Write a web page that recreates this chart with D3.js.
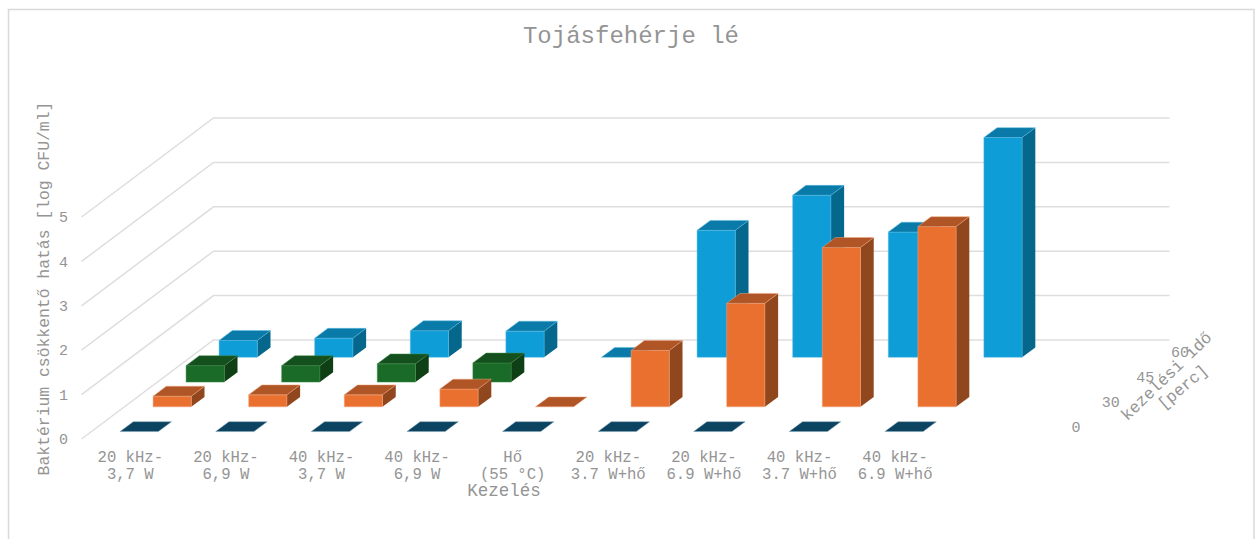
<!DOCTYPE html>
<html lang="hu">
<head>
<meta charset="utf-8">
<title>Tojásfehérje lé</title>
<script src="https://cdn.jsdelivr.net/npm/d3@7/dist/d3.min.js"></script>
<style>
  html, body { margin: 0; padding: 0; background: #fff; overflow: hidden; }
  text { font-family: "Liberation Mono", "DejaVu Sans Mono", monospace; fill: #949494; }
</style>
</head>
<body>
<svg id="chart" width="1255" height="539"></svg>
<script>
// Treatments along the front of the floor; the final slot stays empty.
const categories = [
  ["20 kHz-", "3,7 W"], ["20 kHz-", "6,9 W"], ["40 kHz-", "3,7 W"], ["40 kHz-", "6,9 W"],
  ["Hő", "(55 °C)"], ["20 kHz-", "3.7 W+hő"], ["20 kHz-", "6.9 W+hő"], ["40 kHz-", "3.7 W+hő"],
  ["40 kHz-", "6.9 W+hő"], []
];
const times = ["0", "30", "45", "60"];
const valueTicks = [0, 1, 2, 3, 4, 5];

// Log reduction per treatment, one list per treatment time. null means no bar.
const values0 = [0, 0, 0, 0, 0, 0, 0, 0, 0];
const values30 = [0.24, 0.27, 0.27, 0.40, 0, 1.27, 2.33, 3.59, 4.06];
const values45 = [0.37, 0.37, 0.41, 0.43, null, null, null, null, null];
const values60 = [0.38, 0.43, 0.60, 0.59, 0, 2.86, 3.65, 2.82, 4.95];
const seriesByTime = { "0": values0, "30": values30, "45": values45, "60": values60 };

const palette = {
  "0":  { front: "#0b4360", top: "#0b4360", side: "#08354c", edge: "#7fa3b5" },
  "30": { front: "#ea7030", top: "#b05525", side: "#91471e", edge: "#f3a57c" },
  "45": { front: "#1a6b27", top: "#14501d", side: "#0f3f15", edge: "#3f8a4b" },
  "60": { front: "#0e9dd7", top: "#0a7ba8", side: "#06678c", edge: "#5cbde6" }
};

const svg = d3.select("#chart");

// Oblique floor: x runs along the front edge, depth recedes up and to the right.
const floor = { x: 81.5, y: 439, width: 956, depthX: 132, depthY: 99 };

const xScale = d3.scaleBand().domain(d3.range(categories.length))
  .range([0, floor.width]).paddingInner(0.6).paddingOuter(0.3);
const depthScale = d3.scaleBand().domain(times)
  .range([0, 1]).paddingInner(0.6).paddingOuter(0.3);
const yScale = d3.scaleLinear().domain([0, 5]).range([0, 222]);

// Depth labels fan out slightly wider than the floor rows they name.
const depthLabelX = d3.scalePoint().domain(times).range([1076, 1180]);
const depthLabelY = d3.scalePoint().domain(times).range([426.5, 352]);

const project = (x, d, h) => [
  floor.x + x + d * floor.depthX,
  floor.y - d * floor.depthY - h
];
const poly = pts => pts.map(p => p.join(",")).join(" ");

// Chart frame: open along the bottom edge.
svg.append("path")
  .attr("d", "M8.5,539V9.5H1254V539")
  .attr("fill", "none").attr("stroke", "#d9d9d9").attr("stroke-width", 1.5);

// Gridlines run from the left wall to the back wall and then along it.
svg.append("g").selectAll("polyline").data(valueTicks).join("polyline")
  .attr("points", v => poly([
    project(0, 0, yScale(v)),
    project(0, 1, yScale(v)),
    project(floor.width, 1, yScale(v))
  ]))
  .attr("fill", "none").attr("stroke", "#dedede").attr("stroke-width", 1.5);

// Bars, painted from the back row forward.
const barLayer = svg.append("g");
times.slice().reverse().forEach(t => {
  const colours = palette[t];
  const d0 = depthScale(t), d1 = d0 + depthScale.bandwidth();
  const bars = seriesByTime[t]
    .map((v, i) => ({ v, i }))
    .filter(b => b.v !== null);
  bars.forEach(({ v, i }) => {
    const x0 = xScale(i), x1 = x0 + xScale.bandwidth(), h = yScale(v);
    const g = barLayer.append("g")
      .attr("stroke", colours.edge).attr("stroke-width", 0.5).attr("stroke-linejoin", "round");
    if (h > 0) {
      g.append("polygon").attr("fill", colours.side).attr("stroke", "none")
        .attr("points", poly([project(x1, d0, 0), project(x1, d1, 0), project(x1, d1, h), project(x1, d0, h)]));
      g.append("polygon").attr("fill", colours.front)
        .attr("points", poly([project(x0, d0, 0), project(x1, d0, 0), project(x1, d0, h), project(x0, d0, h)]));
    }
    g.append("polygon").attr("fill", colours.top)
      .attr("points", poly([project(x0, d0, h), project(x1, d0, h), project(x1, d1, h), project(x0, d1, h)]));
  });
});

// Value axis labels on the left edge.
svg.append("g").selectAll("text").data(valueTicks).join("text")
  .attr("x", floor.x - 13.5)
  .attr("y", v => floor.y - yScale(v))
  .attr("dy", "0.35em")
  .attr("text-anchor", "end")
  .attr("font-size", 15)
  .text(v => v);

// Treatment labels, two lines each.
const catLabels = svg.append("g").selectAll("text").data(categories).join("text")
  .attr("text-anchor", "middle").attr("font-size", 15.6);
catLabels.selectAll("tspan").data((lines, i) => lines.map(line => ({ line, i }))).join("tspan")
  .attr("x", d => floor.x + xScale(d.i) + xScale.bandwidth() / 2 + 1)
  .attr("y", (d, j) => 461.5 + j * 17.5)
  .text(d => d.line);

// Depth axis labels to the right of the floor.
svg.append("g").selectAll("text").data(times).join("text")
  .attr("x", t => depthLabelX(t))
  .attr("y", t => depthLabelY(t))
  .attr("dy", "0.35em")
  .attr("text-anchor", "middle")
  .attr("font-size", 15)
  .text(t => t);

// Chart and axis titles.
svg.append("text").attr("x", 631).attr("y", 43)
  .attr("text-anchor", "middle").attr("font-size", 24)
  .text("Tojásfehérje lé");

svg.append("text").attr("x", 504).attr("y", 496)
  .attr("text-anchor", "middle").attr("font-size", 17.5)
  .text("Kezelés");

svg.append("text")
  .attr("transform", "translate(49,288.5) rotate(-90)")
  .attr("text-anchor", "middle").attr("font-size", 16.4)
  .text("Baktérium csökkentő hatás [log CFU/ml]");

svg.append("text")
  .attr("transform", "translate(1170,380) rotate(-44)")
  .attr("text-anchor", "middle").attr("font-size", 16.5)
  .text("kezelési idő");
svg.append("text")
  .attr("transform", "translate(1186,391) rotate(-40)")
  .attr("text-anchor", "middle").attr("font-size", 16.5)
  .text("[perc]");
</script>
</body>
</html>
